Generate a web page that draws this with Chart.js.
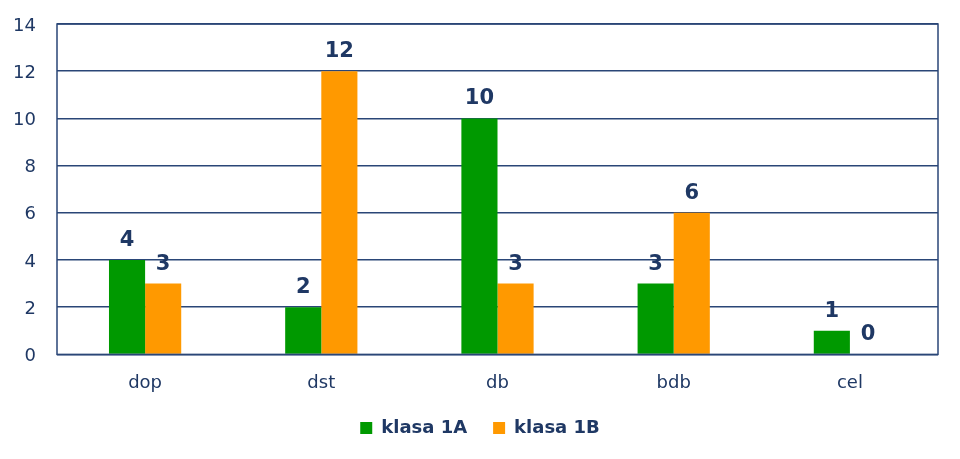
<!DOCTYPE html>
<html>
<head>
<meta charset="utf-8">
<script src="https://cdn.jsdelivr.net/npm/chart.js@4"></script>
<style>
  html, body { margin: 0; padding: 0; background: #fff; }
  #wrap { width: 960px; height: 459px; }
</style>
</head>
<body>
<div id="wrap"><canvas id="grades"></canvas></div>
<script>
const categories = ["dop", "dst", "db", "bdb", "cel"];
const klasa1A = [4, 2, 10, 3, 1];
const klasa1B = [3, 12, 3, 6, 0];
const yTicks = [0, 2, 4, 6, 8, 10, 12, 14];

const navy = "#1f3864";
const gridColor = "#2a4677";
const fontFamily = "'DejaVu Sans', Verdana, sans-serif";

// value labels above each bar
const valueLabels = {
  id: "valueLabels",
  afterDatasetsDraw(chart) {
    const ctx = chart.ctx;
    ctx.save();
    ctx.font = "bold 21px " + fontFamily;
    ctx.fillStyle = navy;
    ctx.textAlign = "center";
    ctx.textBaseline = "alphabetic";
    chart.data.datasets.forEach((ds, i) => {
      chart.getDatasetMeta(i).data.forEach((bar, j) => {
        ctx.fillText(ds.data[j], bar.x, bar.y - 14);
      });
    });
    ctx.restore();
  },
};

// frame around plot area
const plotFrame = {
  id: "plotFrame",
  afterDraw(chart) {
    const { ctx, chartArea: a } = chart;
    ctx.save();
    ctx.strokeStyle = gridColor;
    ctx.lineWidth = 1.5;
    ctx.strokeRect(a.left, a.top, a.right - a.left, a.bottom - a.top);
    ctx.restore();
  },
};

new Chart(document.getElementById("grades").getContext("2d"), {
  type: "bar",
  data: {
    labels: categories,
    datasets: [
      { label: "klasa 1A", data: klasa1A, backgroundColor: "#009900" },
      { label: "klasa 1B", data: klasa1B, backgroundColor: "#ff9900" },
    ],
  },
  options: {
    responsive: true,
    maintainAspectRatio: false,
    animation: false,
    layout: { padding: { top: 0, right: 0, left: 0, bottom: 12 } },
    datasets: { bar: { categoryPercentage: 0.41, barPercentage: 1.0 } },
    scales: {
      x: {
        grid: { display: false },
        border: { display: false },
        afterFit: (axis) => {
          axis.height -= 11;
        },
        ticks: {
          color: navy,
          padding: 10,
          font: { family: fontFamily, size: 18 },
        },
      },
      y: {
        min: 0,
        max: 14,
        afterBuildTicks: (axis) => {
          axis.ticks = yTicks.map((v) => ({ value: v }));
        },
        afterFit: (axis) => {
          axis.width = 57;
          axis.paddingTop = 24;
          axis.paddingBottom = 0;
        },
        grid: { color: gridColor, lineWidth: 1.5, drawTicks: false },
        border: { display: false },
        ticks: {
          color: navy,
          padding: 21,
          labelOffset: 2,
          font: { family: fontFamily, size: 18 },
        },
      },
      // empty gutter on the right so the legend stays centred on the page
      gutter: {
        position: "right",
        grid: { display: false },
        border: { display: false },
        ticks: { display: false },
        afterFit: (axis) => {
          axis.width = 22;
        },
      },
    },
    plugins: {
      tooltip: { enabled: false },
      legend: {
        position: "bottom",
        labels: {
          color: navy,
          boxWidth: 12,
          boxHeight: 12,
          padding: 26,
          font: { family: fontFamily, size: 18, weight: "bold" },
        },
      },
    },
  },
  plugins: [valueLabels, plotFrame],
});
</script>
</body>
</html>
